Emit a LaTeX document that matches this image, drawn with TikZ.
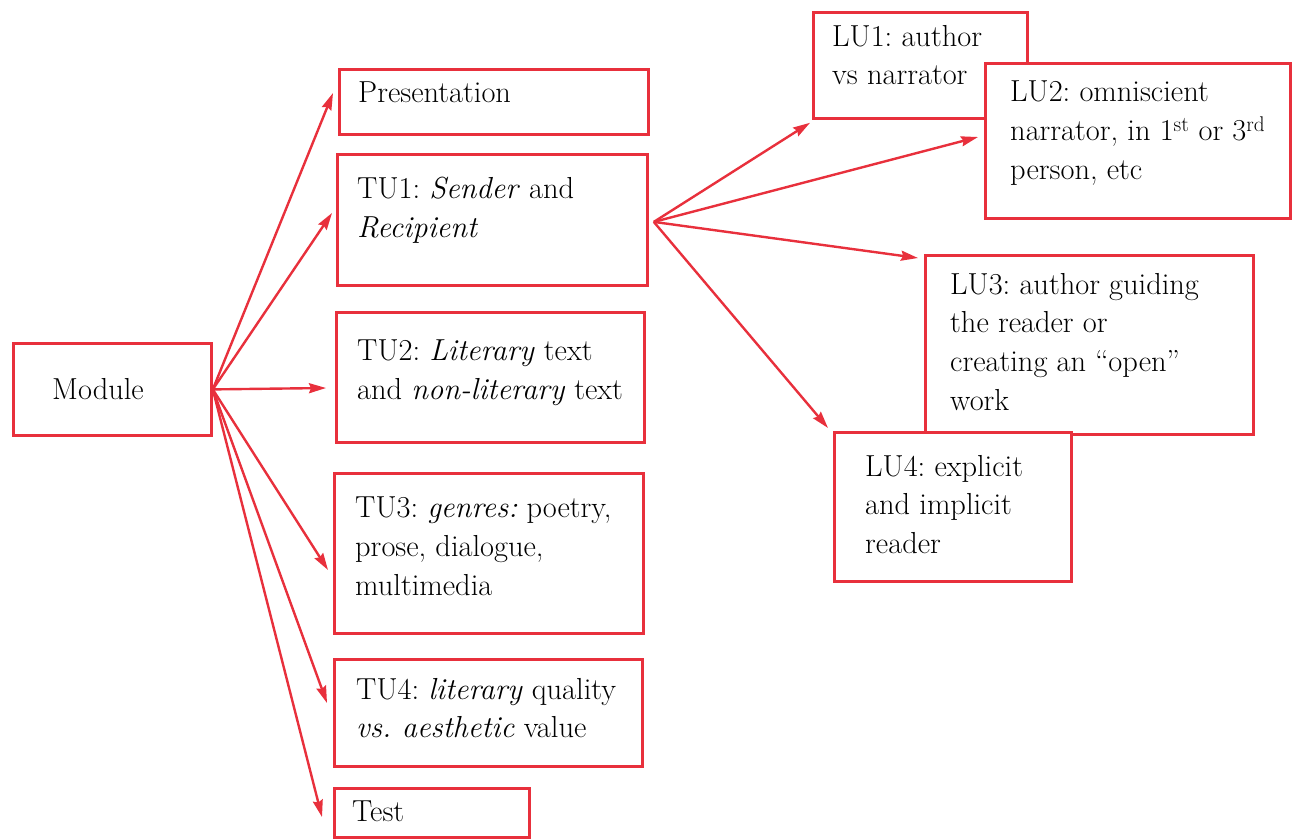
\documentclass[tikz,border=0pt]{standalone}
\usetikzlibrary{arrows.meta,calc}
\definecolor{boxred}{HTML}{E8303C}
\frenchspacing
\begin{document}
\begin{tikzpicture}[x=1pt,y=-1pt,
  box/.style={draw=boxred, fill=white, line width=2.8pt, rectangle, inner sep=0pt, anchor=north west},
  txt/.style={anchor=north west, inner sep=0pt, align=left, font=\fontsize{30.4}{38.6}\selectfont},
  conn/.style={draw=boxred, line width=2.4pt, -{Stealth[length=17pt,width=10pt,inset=2pt]}}]
\useasboundingbox (0,0) rectangle (1292,838);

% left column
\node[box, minimum width=198pt, minimum height=92pt] (mod) at (12,342) {};
\node[box, minimum width=309pt, minimum height=65pt] (pres) at (338,68) {};
\node[box, minimum width=310pt, minimum height=131pt] (tu1) at (336,153) {};
\node[box, minimum width=308pt, minimum height=130pt] (tu2) at (335,311) {};
\node[box, minimum width=309pt, minimum height=160pt] (tu3) at (333,472) {};
\node[box, minimum width=308pt, minimum height=107pt] (tu4) at (333,658) {};
\node[box, minimum width=195pt, minimum height=49pt] (test) at (333,787) {};

% right column
\node[box, minimum width=214pt, minimum height=106pt] (lu1) at (812,11) {};
\draw[conn] ($(tu1.east)+(5,2)$) -- ($(lu1.south west)+(-2,3)$);
\node[box, minimum width=305pt, minimum height=155pt] (lu2) at (984,62) {};
\node[box, minimum width=328pt, minimum height=179pt] (lu3) at (924,254) {};
\node[box, minimum width=237pt, minimum height=149pt] (lu4) at (833,431) {};

% texts
\node[txt] (tmod) at (52,378) {Module};
\node[txt] (tpres) at (358,82) {Presentation};
\node[txt] (ttu1) at (357,177) {TU1: \textit{Sender} and\\\textit{Recipient}};
\node[txt] (ttu2) at (357,340) {TU2: \textit{Literary} text\\and \textit{non-literary} text};
\node[txt] (ttu3) at (355,497) {TU3: \textit{genres:} poetry,\\prose, dialogue,\\multimedia};
\node[txt] (ttu4) at (356,678) {TU4: \textit{literary} quality\\\textit{vs.\ aesthetic} value};
\node[txt] (ttest) at (352,801) {Test};
\node[txt] (tlu1) at (832,25) {LU1: author\\vs narrator};
\node[txt] (tlu2) at (1010,81) {LU2: omniscient\\narrator, in 1\textsuperscript{st} or 3\textsuperscript{rd}\\person, etc};
\node[txt] (tlu3) at (950,273) {LU3: author guiding\\the reader or\\creating an ``open''\\work};
\node[txt] (tlu4) at (865,455) {LU4: explicit\\and implicit\\reader};

% connectors from Module
\draw[conn] (mod.east) -- ($(pres.north west)+(-5,25)$);
\draw[conn] (mod.east) -- ($(tu1.north west)+(-4,60)$);
\draw[conn] (mod.east) -- ($(tu2.north west)+(-9,77)$);
\draw[conn] (mod.east) -- ($(tu3.north west)+(-5,98)$);
\draw[conn] (mod.east) -- ($(tu4.north west)+(-6,45)$);
\draw[conn] (mod.east) -- ($(test.north west)+(-11,30)$);

% connectors from TU1
\draw[conn] ($(tu1.east)+(5,2)$) -- ($(lu2.north west)+(-6,75)$);
\draw[conn] ($(tu1.east)+(5,2)$) -- ($(lu3.north west)+(-6,4)$);
\draw[conn] ($(tu1.east)+(5,2)$) -- ($(lu4.north west)+(-5,-3)$);
\end{tikzpicture}
\end{document}
